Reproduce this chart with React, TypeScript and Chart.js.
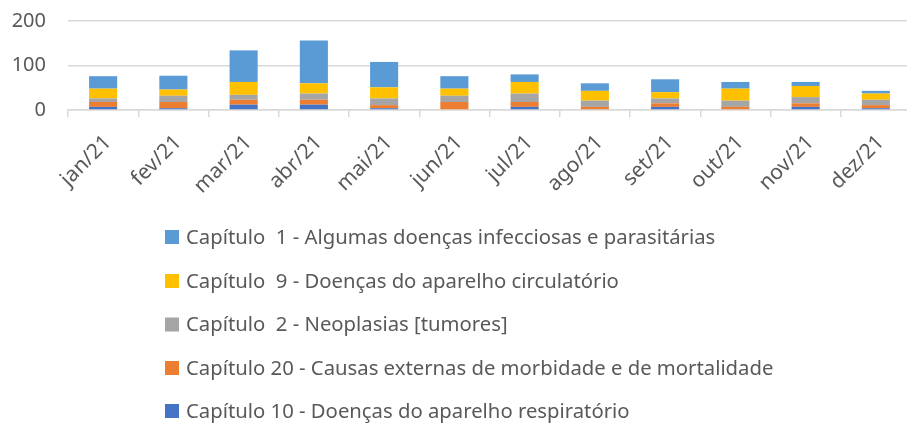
import React, { useEffect, useRef } from "react";
import { Chart, registerables } from "chart.js";

Chart.register(...registerables);

const categories = ["jan/21", "fev/21", "mar/21", "abr/21", "mai/21", "jun/21", "jul/21", "ago/21", "set/21", "out/21", "nov/21", "dez/21"];

const cap10 = [7, 4, 12, 12, 4, 0, 7, 0, 7, 0, 7, 4];
const cap20 = [11, 14, 11, 11, 7, 18, 11, 7, 8, 7, 8, 7];
const cap2 = [8, 14, 11, 14, 15, 14, 19, 14, 11, 14, 14, 12];
const cap9 = [22, 14, 29, 23, 25, 16, 26, 22, 14, 27, 25, 14];
const cap1 = [28, 31, 71, 96, 57, 28, 17, 17, 29, 15, 9, 6];

const seriesNames = [
  "Capítulo 10 - Doenças do aparelho respiratório",
  "Capítulo 20 - Causas externas de morbidade e de mortalidade",
  "Capítulo  2 - Neoplasias [tumores]",
  "Capítulo  9 - Doenças do aparelho circulatório",
  "Capítulo  1 - Algumas doenças infecciosas e parasitárias",
];
const seriesColors = ["#4472C4", "#ED7D31", "#A5A5A5", "#FFC000", "#5B9BD5"];
const yTicks = [0, 100, 200];

export default function App() {
  const ref = useRef<HTMLCanvasElement>(null);

  useEffect(() => {
    if (!ref.current) return;
    Chart.defaults.font.family = "'Noto Sans', sans-serif";

    const legendPlugin = {
      id: "customLegend",
      afterDraw(chart: any) {
        const ctx = chart.ctx;
        ctx.save();
        const ds = chart.data.datasets.slice().reverse();
        const rowY = [237, 281, 324.5, 368, 411];
        ctx.font = "20.3px 'Noto Sans', sans-serif";
        ctx.textBaseline = "middle";
        ctx.textAlign = "left";
        ds.forEach((d: any, i: number) => {
          const y = rowY[i];
          ctx.fillStyle = d.backgroundColor;
          ctx.fillRect(165, y - 7, 14, 14);
          ctx.fillStyle = "#595959";
          ctx.fillText(d.label, 186, y + 1);
        });
        ctx.restore();
      },
    };

    const series = [cap10, cap20, cap2, cap9, cap1];
    const chart = new Chart(ref.current, {
      type: "bar",
      data: {
        labels: categories,
        datasets: series.map((s, i) => ({
          label: seriesNames[i],
          data: s,
          backgroundColor: seriesColors[i],
          borderWidth: 0,
          barPercentage: 0.4,
          categoryPercentage: 1,
        })),
      },
      options: {
        animation: false,
        responsive: true,
        maintainAspectRatio: false,
        layout: { padding: { top: 21, right: 4, left: 0, bottom: 0 } },
        plugins: { legend: { display: false }, tooltip: { enabled: false } },
        scales: {
          x: {
            stacked: true,
            grid: {
              drawOnChartArea: false,
              drawTicks: true,
              tickLength: 7,
              color: "#d9d9d9",
              lineWidth: 1.5,
              offset: true,
            },
            border: { color: "#d9d9d9", width: 1.5 },
            ticks: {
              minRotation: 45,
              maxRotation: 45,
              color: "#595959",
              font: { size: 21 },
              padding: 13,
              labelOffset: 5,
            },
            afterFit(scale: any) {
              scale.height = 313;
            },
          },
          y: {
            stacked: true,
            min: 0,
            max: 200,
            afterBuildTicks(scale: any) {
              scale.ticks = yTicks.map((v) => ({ value: v }));
            },
            grid: { drawTicks: false, color: "#d9d9d9", lineWidth: 1.5 },
            border: { display: false },
            ticks: { color: "#595959", font: { size: 20 }, padding: 22 },
            afterFit(scale: any) {
              scale.width = 68;
              scale.paddingTop = 0;
              scale.paddingBottom = 0;
            },
          },
        },
      },
      plugins: [legendPlugin],
    });
    return () => chart.destroy();
  }, []);

  return (
    <div style={{ position: "fixed", left: 0, top: 0, width: 907, height: 423, overflow: "hidden", background: "#fff" }}>
      <div style={{ width: 915, height: 423, position: "relative" }}>
        <canvas ref={ref} />
      </div>
    </div>
  );
}
